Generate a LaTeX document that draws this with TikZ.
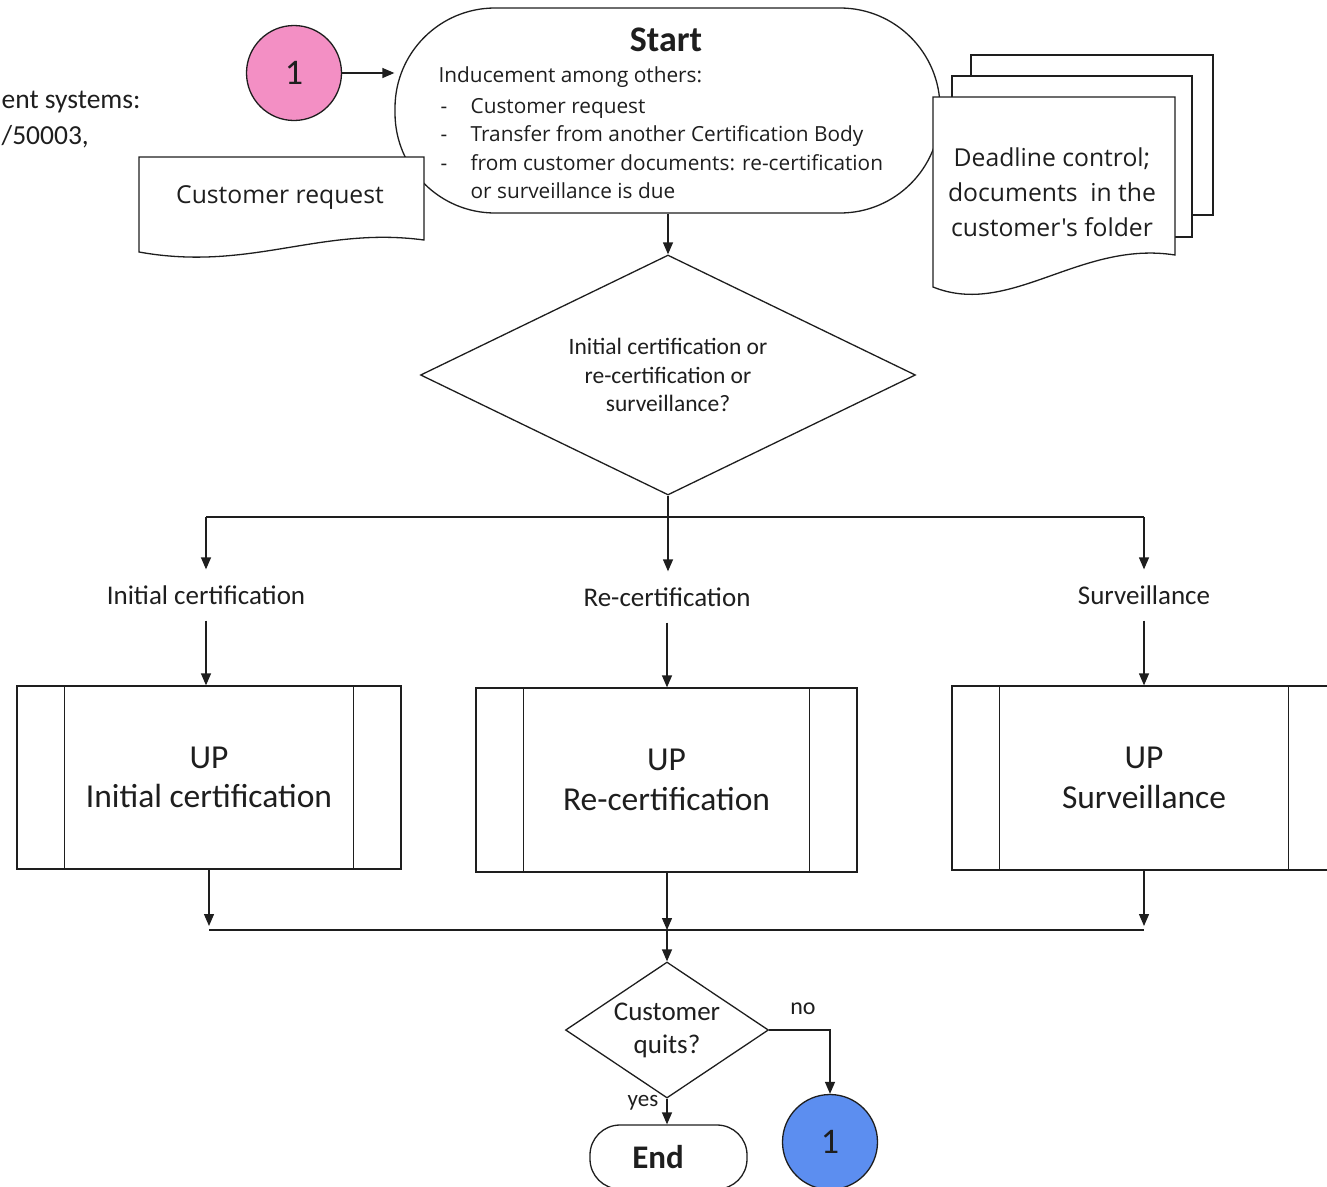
\documentclass[tikz,border=0pt]{standalone}
\usepackage{fontspec}
\setmainfont{Carlito}
\newfontfamily\osans{Open Sans}
\usetikzlibrary{arrows.meta,shapes.geometric}
\definecolor{pinkc}{RGB}{243,143,196}
\definecolor{bluec}{RGB}{92,142,240}
\definecolor{ink}{RGB}{30,30,30}
\begin{document}
\begin{tikzpicture}[x=1pt,y=-1pt,line width=1.3pt,draw=ink,text=ink,
  arr/.style={-{Triangle[length=12pt,width=10pt]}},
  circ/.style={circle,draw,minimum size=95pt,inner sep=0pt,font=\fontsize{36}{36}\selectfont},
  body/.style={font=\osans\fontsize{20.8}{20.8}\selectfont,inner sep=0pt,anchor=base west},
  doctext/.style={font=\osans\fontsize{24.7}{35}\selectfont,inner sep=0pt,align=center},
  lab/.style={font=\fontsize{27}{27}\selectfont,minimum height=50pt,inner sep=0pt},
  proc/.style={draw,fill=white,align=center,font=\fontsize{33.5}{39.5}\selectfont,inner sep=0pt},
  dec/.style={diamond,draw,fill=white,inner sep=0pt,align=center}]
\useasboundingbox (0,0) rectangle (1327,1186);
\clip (0,0) rectangle (1327,1186);

% text at the left edge
\node[font=\fontsize{27.5}{27.5}\selectfont,anchor=west,inner sep=0pt] (tl1) at (1,102) {ent systems:};
\node[font=\fontsize{27.5}{27.5}\selectfont,anchor=west,inner sep=0pt] (tl2) at (1,137) {/50003,};

% start terminator
\node[draw,fill=white,rounded corners=100pt,minimum width=545pt,minimum height=205pt] (start) at (667.5,110.5) {};
\node[font=\bfseries\fontsize{36}{36}\selectfont,inner sep=0pt] (starttitle) at (666,40) {Start};
\node[body] (b0) at (438,82) {Inducement among others:};
\node[body] (b1d) at (440,113) {-};
\node[body] (b1) at (470,113) {Customer request};
\node[body] (b2d) at (440,141) {-};
\node[body] (b2) at (470,141) {Transfer from another Certification Body};
\node[body] (b3d) at (440,170) {-};
\node[body] (b3) at (470,170) {from customer documents: re-certification};
\node[body] (b4) at (470,198) {or surveillance is due};

% connector 1 -> start
\node[circ,fill=pinkc] (c1) at (294,73) {1};
\draw[arr] (c1.east) -- (c1.east -| start.west);

% customer request document
\draw[fill=white] (139,157) -- (424,157) -- (424,240) .. controls (320,226) and (250,272) .. (139,252) -- cycle;
\node[doctext] (custreq) at (280,198) {Customer request};

% deadline document stack
\draw[fill=white] (971,55) rectangle (1213,215);
\draw[fill=white] (952,76) rectangle (1192,237);
\draw[fill=white] (933,97) -- (1175,97) -- (1175,255) .. controls (1080,240) and (1010,318) .. (933,287) -- cycle;
\node[doctext] (deadline) at (1052,192) {Deadline control;\\documents\ \ in the\\customer's folder};

% first decision
\node[dec,aspect=2,minimum width=495pt,minimum height=240pt,font=\fontsize{23.5}{28.5}\selectfont] (d1) at (668,375) {Initial certification or\\re-certification or\\surveillance?};
\draw[arr] (start.south -| d1.north) -- (d1.north);

% labels
\node[lab] (lab1) at (206,595) {Initial certification};
\node[lab] (lab2) at (667,597) {Re-certification};
\node[lab] (lab3) at (1144,595) {Surveillance};

\coordinate (split) at (668,517);
\draw (d1.south) -- (split);
\draw (split -| lab1) -- (split -| lab3);
\draw[arr] (split -| lab1) -- (lab1.north);
\draw[arr] (split) -- (split |- lab2.north);
\draw[arr] (split -| lab3) -- (lab3.north);

% sub-process boxes
\node[proc,minimum width=384pt,minimum height=183pt] (box1) at (209,777.5) {UP\\Initial certification};
\node[proc,minimum width=381pt,minimum height=184pt] (box2) at (666.5,780) {UP\\Re-certification};
\node[proc,minimum width=384pt,minimum height=184pt] (box3) at (1144,778) {UP\\Surveillance};
\foreach \b in {box1,box2,box3}{
  \draw ([xshift=48pt]\b.north west) -- ([xshift=48pt]\b.south west);
  \draw ([xshift=-48pt]\b.north east) -- ([xshift=-48pt]\b.south east);
}
\draw[arr] (lab1.south) -- (lab1.south |- box1.north);
\draw[arr] (lab2.south) -- (lab2.south |- box2.north);
\draw[arr] (lab3.south) -- (lab3.south |- box3.north);

% merge
\coordinate (merge) at (667,930);
\draw (box1.south |- merge) -- (box3.south |- merge);
\draw[arr,shorten >=4pt] (box1.south) -- (box1.south |- merge);
\draw[arr] (box2.south -| merge) -- (merge);
\draw[arr,shorten >=4pt] (box3.south) -- (box3.south |- merge);

% second decision
\node[dec,aspect=1.5,minimum width=203pt,minimum height=136pt,font=\fontsize{27}{33}\selectfont] (d2) at (667,1030) {Customer\\quits?};
\draw[arr] (merge) -- (d2.north);

\node[circ,fill=bluec] (c2) at (830,1142) {1};
\draw[arr] (d2.east) -| (c2.north);
\node[font=\fontsize{24}{24}\selectfont,inner sep=0pt] (nolab) at (803,1009) {no};

\node[draw,fill=white,rounded corners=30pt,minimum width=157pt,minimum height=64pt,inner sep=0pt] (endn) at (668.5,1157) {};
\node[font=\bfseries\fontsize{33}{33}\selectfont,inner sep=0pt] (endtxt) at (658,1157) {End};
\draw[arr] (d2.south) -- (d2.south |- endn.north);
\node[font=\fontsize{23}{23}\selectfont,inner sep=0pt] (yeslab) at (643,1103) {yes};
\end{tikzpicture}
\end{document}
